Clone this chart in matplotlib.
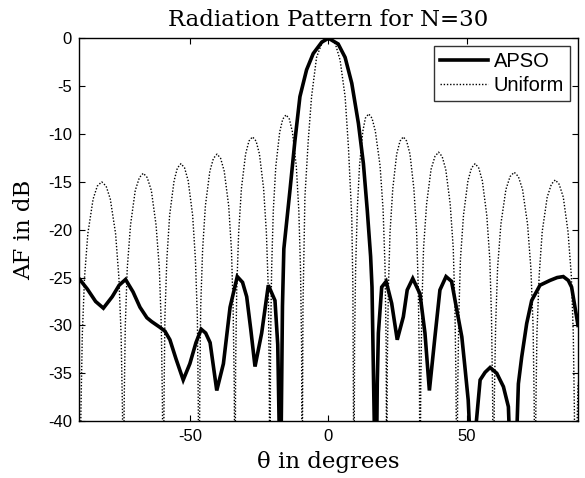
import matplotlib
matplotlib.use("Agg")
import matplotlib.pyplot as plt

plt.rcParams["axes.unicode_minus"] = False

# Uniform array pattern (dB)
uni_theta = [-90.0, -89.6, -89.3, -88.8, -88.0, -86.8, -84.9, -83.4, -81.8, -80.2, -78.7, -76.8, -75.6, -74.8, -74.3,
             -74.0, -73.7, -73.3, -72.6, -71.4, -69.7, -68.2, -66.8, -65.4, -63.9, -62.2, -61.0, -60.3, -59.9,
             -59.6, -59.3, -59.0, -58.3, -57.3, -55.7, -54.5, -53.2, -51.9, -50.6, -49.0, -48.0, -47.3, -47.0,
             -46.7, -46.4, -46.1, -45.4, -44.4, -42.8, -41.5, -40.2, -38.9, -37.6, -36.0, -35.0, -34.4, -34.0,
             -33.7, -33.5, -33.1, -32.4, -31.4, -29.9, -28.7, -27.4, -26.1, -24.9, -23.4, -22.4, -21.7, -21.4,
             -21.1, -20.9, -20.5, -19.9, -19.0, -17.6, -16.5, -15.3, -14.1, -13.0, -11.6, -10.7, -10.1, -9.7,
             -9.5, -9.2, -8.5, -7.3, -6.1, -4.3, -2.5, -1.2, 0.0, 1.2, 2.5, 4.2, 6.0, 7.2, 8.4, 8.8,
             9.2, 9.4, 9.8, 10.4, 11.2, 12.4, 13.3, 14.5, 15.7, 16.9, 18.6, 19.7, 20.4, 20.8,
             21.0, 21.2, 21.6, 22.2, 23.2, 24.6, 25.8, 27.0, 28.2, 29.4, 30.8, 31.8, 32.4, 32.8,
             33.0, 33.3, 33.7, 34.3, 35.4, 37.0, 38.4, 39.7, 41.0, 42.3, 43.9, 45.0, 45.6, 46.0,
             46.3, 46.6, 47.0, 47.6, 48.7, 50.3, 51.6, 52.9, 54.2, 55.5, 57.1, 58.2, 58.8, 59.2,
             59.5, 59.8, 60.3, 61.0, 62.2, 64.0, 65.5, 67.0, 68.5, 70.0, 71.8, 73.0, 73.8, 74.2,
             74.5, 74.8, 75.2, 76.0, 77.1, 78.9, 80.4, 81.8, 83.2, 84.7, 86.4, 87.6, 88.3, 88.7,
             89.0, 90.0]
uni_db = [-36.0, -50.0, -39.0, -31.0, -25.0, -20.4, -16.8, -15.45, -15.0, -15.45, -16.8, -20.4, -25.0, -31.0, -39.0,
          -50.0, -38.1, -30.1, -24.1, -19.5, -15.9, -14.55, -14.1, -14.55, -15.9, -19.5, -24.1, -30.1, -38.1,
          -50.0, -37.1, -29.1, -23.1, -18.5, -14.9, -13.55, -13.1, -13.55, -14.9, -18.5, -23.1, -29.1, -37.1,
          -50.0, -36.1, -28.1, -22.1, -17.5, -13.9, -12.55, -12.1, -12.55, -13.9, -17.5, -22.1, -28.1, -36.1,
          -50.0, -34.3, -26.3, -20.3, -15.7, -12.1, -10.75, -10.3, -10.75, -12.1, -15.7, -20.3, -26.3, -34.3,
          -50.0, -32.0, -24.0, -18.0, -13.4, -9.8, -8.45, -8.0, -8.45, -9.8, -13.4, -18.0, -24.0, -32.0,
          -50.0, -28.0, -16.6, -10.7, -6.1, -2.0, -0.6, -0.15, 0.0, -0.15, -0.6, -2.3, -6.1, -11.4, -18.7, -26.0,
          -50.0, -31.9, -23.9, -17.9, -13.3, -9.7, -8.35, -7.9, -8.35, -9.7, -13.3, -17.9, -23.9, -31.9,
          -50.0, -34.3, -26.3, -20.3, -15.7, -12.1, -10.75, -10.3, -10.75, -12.1, -15.7, -20.3, -26.3, -34.3,
          -50.0, -35.9, -27.9, -21.9, -17.3, -13.7, -12.35, -11.9, -12.35, -13.7, -17.3, -21.9, -27.9, -35.9,
          -50.0, -37.1, -29.1, -23.1, -18.5, -14.9, -13.55, -13.1, -13.55, -14.9, -18.5, -23.1, -29.1, -37.1,
          -50.0, -38.0, -30.0, -24.0, -19.4, -15.8, -14.45, -14.0, -14.45, -15.8, -19.4, -24.0, -30.0, -38.0,
          -50.0, -38.8, -30.8, -24.8, -20.2, -16.6, -15.25, -14.8, -15.25, -16.6, -20.2, -24.8, -30.8, -38.8,
          -50.0, -36.0]

# APSO optimized pattern (dB)
apso_theta = [-90.0, -87.0, -84.0, -81.2, -78.0, -75.5, -73.2, -70.5, -68.0, -65.5, -63.8, -60.8, -59.0,
              -57.2, -55.0, -52.4, -50.0, -47.8, -45.9, -44.3, -42.7, -40.3, -37.9, -35.5, -32.9,
              -31.0, -29.5, -28.0, -26.5, -24.1, -21.7, -19.3, -18.3, -17.7, -17.2, -16.6, -16.1,
              -13.9, -12.1, -10.3, -7.9, -5.5, -2.4, 0.0, 3.5, 6.0, 8.4, 10.8, 12.6, 14.0, 15.2,
              15.7, 16.2, 16.8, 17.3, 17.6, 18.0, 19.2, 20.8, 22.8, 24.8, 27.0, 28.4, 30.4, 33.0,
              34.8, 36.4, 38.4, 40.2, 42.4, 44.4, 46.3, 48.1, 49.2, 50.4, 51.1, 52.5, 53.2, 54.7,
              56.5, 58.3, 60.7, 63.1, 64.9, 65.7, 67.5, 68.5, 69.7, 71.5, 73.3, 76.3, 79.9, 82.5,
              84.7, 86.5, 87.7, 89.5, 90.0]
apso_db = [-25.1, -26.2, -27.5, -28.2, -27.0, -25.8, -25.2, -26.5, -28.1, -29.2, -29.6, -30.2, -30.6,
           -31.5, -33.5, -35.7, -34.0, -31.8, -30.4, -30.8, -31.8, -36.8, -34.0, -28.1, -24.9,
           -25.5, -27.0, -30.5, -34.3, -30.8, -25.8, -27.4, -32.0, -42.0, -45.0, -28.0, -22.0,
           -15.9, -10.7, -6.1, -3.3, -1.6, -0.4, 0.0, -0.6, -2.0, -4.7, -8.9, -13.1, -18.0, -22.8,
           -26.0, -34.7, -45.0, -45.0, -36.0, -30.8, -26.0, -25.4, -27.7, -31.5, -29.1, -26.3, -25.1, -26.7,
           -30.8, -36.8, -31.2, -26.3, -24.9, -25.4, -28.4, -31.2, -34.3, -37.8, -42.0, -45.0, -40.5, -35.7,
           -34.9, -34.4, -35.0, -36.4, -38.5, -45.0, -45.0, -36.1, -33.3, -29.8, -27.4, -25.8, -25.3, -25.0,
           -24.9, -25.3, -26.0, -29.1, -30.0]

xticks = [-50, 0, 50]
yticks = [0, -5, -10, -15, -20, -25, -30, -35, -40]

fig = plt.figure(figsize=(5.85, 4.78), dpi=100)
ax = fig.add_axes([0.135, 0.119, 0.853, 0.801])

ax.plot(apso_theta, apso_db, color="black", lw=2.6, label="APSO", solid_joinstyle="miter")
ax.plot(uni_theta, uni_db, color="black", lw=1.0, linestyle=(0, (1, 1.3)), label="Uniform")

ax.set_xlim(-90, 90)
ax.set_ylim(-40, 0)
ax.set_xticks(xticks)
ax.set_yticks(yticks)
ax.tick_params(direction="in", top=True, right=True, length=4, width=0.8, labelsize=12)
ax.tick_params(axis="x", pad=6)
ax.tick_params(axis="y", pad=5)
for lab in ax.get_xticklabels() + ax.get_yticklabels():
    lab.set_family("Liberation Sans")
for s in ax.spines.values():
    s.set_linewidth(1.0)

ax.set_title("Radiation Pattern for N=30", family="DejaVu Serif", fontsize=16.5, pad=9)
ax.set_xlabel("θ in degrees", family="DejaVu Serif", fontsize=16.5, labelpad=5)
ax.set_ylabel("AF in dB", family="DejaVu Serif", fontsize=16.5, labelpad=9)

leg = ax.legend(loc="upper right", prop={"family": "Liberation Sans", "size": 14.5},
                frameon=True, fancybox=False, edgecolor="black", handlelength=2.4,
                borderaxespad=0.4, borderpad=0.3, labelspacing=0.25, handletextpad=0.25)
leg.get_frame().set_linewidth(1.0)

fig.savefig("out.png", dpi=100)
